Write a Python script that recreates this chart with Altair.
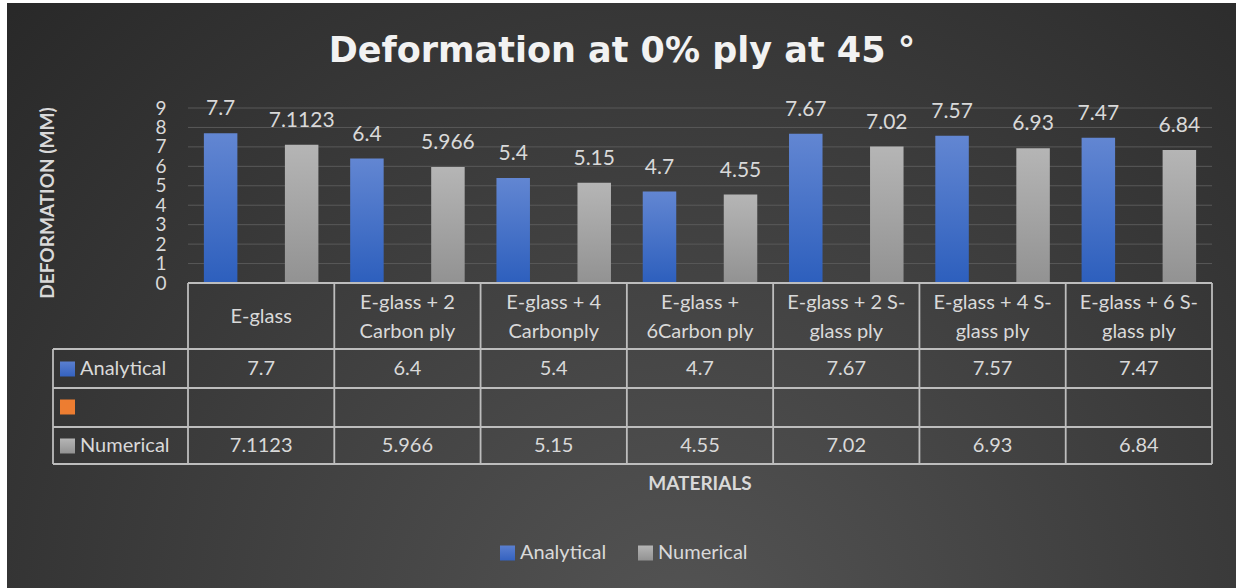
import altair as alt
import pandas as pd

# ---- data -----------------------------------------------------------------
categories = [
    "E-glass",
    "E-glass + 2 Carbon ply",
    "E-glass + 4 Carbonply",
    "E-glass + 6Carbon ply",
    "E-glass + 2 S-glass ply",
    "E-glass + 4 S-glass ply",
    "E-glass + 6 S-glass ply",
]
header_labels = [
    "E-glass",
    "E-glass + 2\nCarbon ply",
    "E-glass + 4\nCarbonply",
    "E-glass +\n6Carbon ply",
    "E-glass + 2 S-\nglass ply",
    "E-glass + 4 S-\nglass ply",
    "E-glass + 6 S-\nglass ply",
]
analytical = [7.7, 6.4, 5.4, 4.7, 7.67, 7.57, 7.47]
numerical = [7.1123, 5.966, 5.15, 4.55, 7.02, 6.93, 6.84]
series_slots = ["Analytical", "Series2", "Numerical"]  # middle series is empty
y_ticks = [0, 1, 2, 3, 4, 5, 6, 7, 8, 9]

title_text = "Deformation at 0% ply at 45 °"
x_title = "MATERIALS"
y_title = "DEFORMATION (MM)"

FONT = "Lato"
TXT = "#d9d9d9"
LINE = "#bdbdbd"
W, H = 1024, 175

rows = []
for c, h, a, n in zip(categories, header_labels, analytical, numerical):
    rows.append({"cat": c, "header": h, "series": "Analytical", "value": a, "label": str(a)})
    rows.append({"cat": c, "header": h, "series": "Numerical", "value": n, "label": str(n)})
df = pd.DataFrame(rows)
df_cat = pd.DataFrame({"cat": categories, "header": header_labels})
df_ticks = pd.DataFrame({"v": [t for t in y_ticks if t > 0]})
one = pd.DataFrame({"k": [0]})

xscale = alt.Scale(domain=categories, paddingInner=0, paddingOuter=0)
yscale = alt.Scale(domain=[0, 9], nice=False, zero=True)
yaxis = alt.Axis(values=y_ticks, grid=False, domain=False, ticks=False, tickSize=0,
                 labelPadding=22, labelFont=FONT, labelFontSize=19, labelColor=TXT,
                 labelOverlap=False, labelBound=False, title=None, zindex=1)
offscale = alt.Scale(domain=series_slots, paddingInner=0.173, paddingOuter=0.392)

X = alt.X("cat:N", scale=xscale, axis=None)
XO = alt.XOffset("series:N", scale=offscale)
Y = alt.Y("value:Q", scale=yscale, axis=yaxis)


def lin(top, bottom):
    return {"gradient": "linear", "x1": 0, "y1": 0, "x2": 0, "y2": 1,
            "stops": [{"offset": 0, "color": top}, {"offset": 1, "color": bottom}]}


# ---- background --------------------------------------------------------------
background = alt.Chart(one).mark_rect(
    fill={"gradient": "radial", "x1": 0.55, "y1": 0.78, "r1": 0,
          "x2": 0.55, "y2": 0.78, "r2": 0.8,
          "stops": [{"offset": 0, "color": "#545454"}, {"offset": 1, "color": "#262626"}]}
).encode(x=alt.value(-181), x2=alt.value(1048), y=alt.value(-105), y2=alt.value(480))

grid = alt.Chart(df_ticks).mark_rule(color="#595959", strokeWidth=1).encode(
    y=alt.Y("v:Q", scale=yscale, axis=yaxis), x=alt.value(0), x2=alt.value(W)
)

# ---- bars and their value labels --------------------------------------------------
bars_a = alt.Chart(df).transform_filter(alt.datum.series == "Analytical").mark_bar(
    fill=lin("#6286d2", "#2d5fbd")).encode(x=X, xOffset=XO, y=Y)
bars_n = alt.Chart(df).transform_filter(alt.datum.series == "Numerical").mark_bar(
    fill=lin("#b5b5b5", "#929292")).encode(x=X, xOffset=XO, y=Y)
bar_labels = alt.Chart(df).mark_text(
    font=FONT, fontSize=21, color=TXT, baseline="alphabetic", dy=-18
).encode(x=X, xOffset=XO, y=Y, text="label:N")

# ---- data table -----------------------------------------------------------------
def hline(y, x0):
    return alt.Chart(one).mark_rule(color=LINE, strokeWidth=1.8).encode(
        x=alt.value(x0), x2=alt.value(W), y=alt.value(y))


def vline(x, y0, y1):
    return alt.Chart(one).mark_rule(color=LINE, strokeWidth=1.8).encode(
        x=alt.value(x), y=alt.value(y0), y2=alt.value(y1))


col_lines = alt.Chart(df_cat).mark_rule(color=LINE, strokeWidth=1.8).encode(
    x=alt.X("cat:N", scale=xscale, axis=None, bandPosition=0),
    y=alt.value(175), y2=alt.value(356))

table_lines = [hline(175, 0), hline(241, -135), hline(280, -135), hline(319, -135),
               hline(356, -135), vline(W, 175, 356), vline(-135, 241, 356), col_lines]

header_style = dict(font=FONT, fontSize=20, color=TXT, baseline="middle",
                    lineBreak="\n", lineHeight=29)
headers_one = alt.Chart(df_cat).transform_filter(
    "indexof(datum.header, '\\n') < 0").mark_text(**header_style).encode(
    x=X, y=alt.value(209), text="header:N")
headers_two = alt.Chart(df_cat).transform_filter(
    "indexof(datum.header, '\\n') >= 0").mark_text(**header_style).encode(
    x=X, y=alt.value(195), text="header:N")

cell_a = alt.Chart(df).transform_filter(alt.datum.series == "Analytical").mark_text(
    font=FONT, fontSize=20, color=TXT, baseline="middle").encode(
    x=X, y=alt.value(261), text="label:N")
cell_n = alt.Chart(df).transform_filter(alt.datum.series == "Numerical").mark_text(
    font=FONT, fontSize=20, color=TXT, baseline="middle").encode(
    x=X, y=alt.value(338), text="label:N")


def key_box(x0, yc, fill):
    return alt.Chart(one).mark_rect(fill=fill).encode(
        x=alt.value(x0), x2=alt.value(x0 + 15), y=alt.value(yc - 7.5), y2=alt.value(yc + 7.5))


def label(txt, x, y, size=20, align="left", weight="normal", color=TXT, angle=0, font=FONT):
    kw = dict(font=font, fontSize=size, color=color, align=align, baseline="middle",
              fontWeight=weight, text=txt)
    if angle:
        kw["angle"] = angle
    return alt.Chart(one).mark_text(**kw).encode(x=alt.value(x), y=alt.value(y))


row_keys = [
    key_box(-128, 261, lin("#5a7fd0", "#3462c0")), label("Analytical", -108, 261),
    key_box(-128, 299, "#ed7d31"),
    key_box(-128, 338, lin("#b5b5b5", "#929292")), label("Numerical", -108, 338),
]

# ---- titles and legend -------------------------------------------------------------
texts = [
    label(title_text, 434, -57, size=35, align="center", weight="bold", color="#f2f2f2",
          font="DejaVu Sans"),
    label(x_title, 512, 376, size=19, align="center", weight="bold"),
    label(y_title, -140, 95, size=19, align="center", weight="bold", angle=270),
    key_box(312, 445, lin("#5a7fd0", "#3462c0")), label("Analytical", 332, 445),
    key_box(450, 445, lin("#b5b5b5", "#929292")), label("Numerical", 470, 445),
]

chart = alt.layer(
    background, grid, bars_a, bars_n, bar_labels,
    *table_lines, headers_one, headers_two, cell_a, cell_n, *row_keys, *texts
).properties(
    width=W, height=H,
    padding={"left": 188, "top": 108, "right": 24, "bottom": 305},
    autosize=alt.AutoSizeParams(type="none"),
    background="white",
).configure_view(strokeWidth=0)

chart.save("out.html", embed_options={"renderer": "svg", "actions": False})
